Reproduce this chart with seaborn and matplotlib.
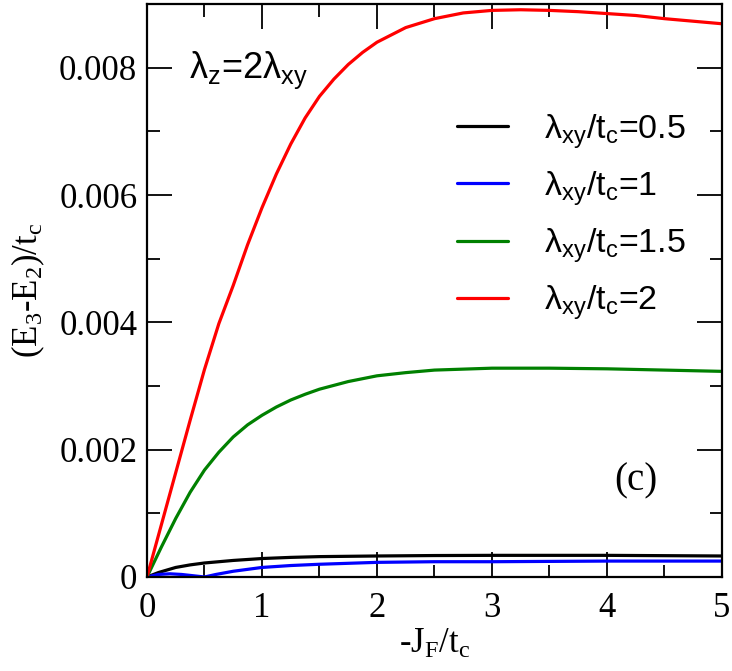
import matplotlib
matplotlib.use("Agg")
import matplotlib.pyplot as plt
import seaborn as sns
from matplotlib.ticker import MultipleLocator

# data (x = -J_F/t_c)
x_red = [0, 0.125, 0.25, 0.375, 0.5, 0.625, 0.75, 0.875, 1.0, 1.125, 1.25, 1.375, 1.5, 1.625,
         1.75, 1.875, 2.0, 2.25, 2.5, 2.75, 3.0, 3.25, 3.5, 3.75, 4.0, 4.25, 4.5, 4.75, 5.0]
y_red = [0, 0.00082, 0.00164, 0.00246, 0.00326, 0.00398, 0.00458, 0.00522, 0.0058, 0.00633,
         0.0068, 0.00721, 0.00755, 0.00782, 0.00805, 0.00824, 0.0084, 0.00863, 0.00877,
         0.00886, 0.0089, 0.00891, 0.0089, 0.00888, 0.00885, 0.00882, 0.00877, 0.00873, 0.00869]

x_green = [0, 0.125, 0.25, 0.375, 0.5, 0.625, 0.75, 0.875, 1.0, 1.125, 1.25, 1.375, 1.5,
           1.75, 2.0, 2.25, 2.5, 3.0, 3.5, 4.0, 4.5, 5.0]
y_green = [0, 0.00047, 0.00092, 0.00133, 0.00168, 0.00196, 0.0022, 0.00239, 0.00254, 0.00267,
           0.00278, 0.00287, 0.00295, 0.00307, 0.00316, 0.00321, 0.00325, 0.00328, 0.00328,
           0.00327, 0.00325, 0.00323]

x_black = [0, 0.1, 0.25, 0.375, 0.5, 0.75, 1.0, 1.25, 1.5, 2.0, 2.5, 3.0, 4.0, 5.0]
y_black = [0, 0.00007, 0.00015, 0.00019, 0.00022, 0.00026, 0.00029, 0.000308, 0.00032,
           0.00033, 0.000337, 0.00034, 0.00034, 0.00033]

x_blue = [0, 0.1, 0.2, 0.3, 0.4, 0.5, 0.6, 0.75, 1.0, 1.25, 1.5, 2.0, 2.5, 3.0, 4.0, 5.0]
y_blue = [0, 0.00004, 0.00005, 0.00004, 0.00002, 0.0, 0.00004, 0.00009, 0.00015, 0.00018,
          0.0002, 0.00023, 0.00024, 0.00024, 0.00025, 0.00025]

labels = ["λ$_{xy}$/t$_c$=0.5", "λ$_{xy}$/t$_c$=1", "λ$_{xy}$/t$_c$=1.5", "λ$_{xy}$/t$_c$=2"]
colors = ["black", "blue", "green", "red"]

sns.set_style("ticks")
plt.rcParams["mathtext.default"] = "regular"
plt.rcParams["font.family"] = ["Liberation Serif", "DejaVu Serif"]
for k in ["text.color", "axes.labelcolor", "xtick.color", "ytick.color", "axes.edgecolor"]:
    plt.rcParams[k] = "black"

fig = plt.figure(figsize=(7.32, 6.71), dpi=100)
ax = fig.add_axes([0.2008, 0.1401, 0.7855, 0.8539])

series = [(x_black, y_black), (x_blue, y_blue), (x_green, y_green), (x_red, y_red)]
for (xs, ys), lab, col in zip(series, labels, colors):
    sns.lineplot(x=xs, y=ys, color=col, linewidth=2.3, label=lab, ax=ax)

ax.set_xlim(0, 5)
ax.set_ylim(0, 0.009)
ax.xaxis.set_major_locator(MultipleLocator(1))
ax.xaxis.set_minor_locator(MultipleLocator(0.5))
ax.yaxis.set_minor_locator(MultipleLocator(0.001))
ax.set_yticks([0, 0.002, 0.004, 0.006, 0.008])
ax.set_yticklabels(["0", "0.002", "0.004", "0.006", "0.008"])

ax.tick_params(which="both", direction="in", top=True, right=True, width=1.3, labelsize=25)
ax.tick_params(which="major", length=18)
ax.tick_params(which="minor", length=9)
ax.tick_params(axis="x", pad=11)
ax.tick_params(axis="y", pad=7)
for s in ax.spines.values():
    s.set_linewidth(1.6)

ax.set_xlabel("-J$_F$/t$_c$", fontsize=25, labelpad=2)
ax.set_ylabel("(E$_3$-E$_2$)/t$_c$", fontsize=25, labelpad=9)

leg = ax.legend(loc="upper right", bbox_to_anchor=(0.99, 0.865), frameon=False,
                prop={"family": "Liberation Sans", "size": 24.5},
                handlelength=1.5, handletextpad=1.05, labelspacing=0.55)

ax.text(0.073, 0.885, "λ$_z$=2λ$_{xy}$", transform=ax.transAxes, fontsize=26,
        family="Liberation Sans", va="center")
ax.text(0.85, 0.168, "(c)", transform=ax.transAxes, fontsize=28, ha="center", va="center")

fig.savefig("out.png", dpi=100)
